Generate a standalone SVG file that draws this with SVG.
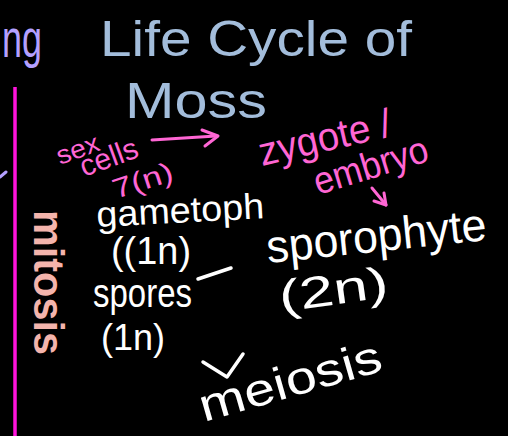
<svg xmlns="http://www.w3.org/2000/svg" width="508" height="436" viewBox="0 0 508 436">
  <style>
    text { font-family: "Liberation Sans", "DejaVu Sans", sans-serif; }
    .title { fill: #a3bddb; font-size: 50px; }
    .pink { fill: #ff66d4; }
    .white { fill: #ffffff; }
    .salmon { fill: #f4b4ac; font-weight: bold; }
    .purple { fill: #b4a0ff; }
    .plink { stroke: #ff66d4; stroke-width: 3; fill: none; stroke-linecap: round; stroke-linejoin: round; }
    .wlink { stroke: #ffffff; stroke-width: 3.5; fill: none; stroke-linecap: round; stroke-linejoin: round; }
  </style>
  <rect width="508" height="436" fill="#000000"/>

  <!-- left margin fragments -->
  <g id="margin">
    <text class="purple" x="2" y="57" font-size="54" textLength="40" lengthAdjust="spacingAndGlyphs">ng</text>
    <line x1="15" y1="87" x2="15" y2="436" stroke="#ff14dc" stroke-width="3.5"/>
    <line x1="0" y1="177" x2="6" y2="172" stroke="#b4a0ff" stroke-width="3" stroke-linecap="round"/>
  </g>

  <g id="title">
    <text class="title" x="100" y="56" textLength="312" lengthAdjust="spacingAndGlyphs">Life Cycle of</text>
    <text class="title" x="125" y="118" textLength="142" lengthAdjust="spacingAndGlyphs">Moss</text>
  </g>

  <g id="sex-cells">
    <text class="pink" font-size="26" transform="rotate(-20 60 165)" x="60" y="165" textLength="44" lengthAdjust="spacingAndGlyphs">sex</text>
    <text class="pink" font-size="30" transform="rotate(-20 84 177)" x="84" y="177" textLength="60" lengthAdjust="spacingAndGlyphs">cells</text>
    <text class="pink" font-size="28" transform="rotate(-18 116 199)" x="116" y="199" textLength="62" lengthAdjust="spacingAndGlyphs">7(n)</text>
  </g>

  <g id="zygote-embryo">
    <text class="pink" font-size="40" transform="rotate(-13 262 166)" x="262" y="166" textLength="135" lengthAdjust="spacingAndGlyphs">zygote /</text>
    <text class="pink" font-size="38" transform="rotate(-17 318 195)" x="318" y="195" textLength="118" lengthAdjust="spacingAndGlyphs">embryo</text>
  </g>

  <g id="mitosis">
    <text class="salmon" font-size="42" transform="rotate(90 34 210)" x="34" y="210" textLength="145" lengthAdjust="spacingAndGlyphs">mitosis</text>
  </g>

  <g id="gametophyte">
    <text class="white" font-size="36" transform="rotate(-3 97 227)" x="97" y="227" textLength="168" lengthAdjust="spacingAndGlyphs">gametoph</text>
    <text class="white" font-size="38" x="111" y="264" textLength="80" lengthAdjust="spacingAndGlyphs">((1n)</text>
  </g>

  <g id="spores">
    <text class="white" font-size="40" x="93" y="307" textLength="99" lengthAdjust="spacingAndGlyphs">spores</text>
    <text class="white" font-size="36" x="101" y="350" textLength="64" lengthAdjust="spacingAndGlyphs">(1n)</text>
  </g>

  <g id="sporophyte">
    <text class="white" font-size="46" transform="rotate(-6 268 263)" x="268" y="263" textLength="221" lengthAdjust="spacingAndGlyphs">sporophyte</text>
    <text class="white" font-size="44" transform="rotate(-8 281 312)" x="281" y="312" textLength="110" lengthAdjust="spacingAndGlyphs">(2n)</text>
  </g>

  <g id="meiosis">
    <text class="white" font-size="46" transform="rotate(-16 204 422)" x="204" y="422" textLength="188" lengthAdjust="spacingAndGlyphs">meiosis</text>
  </g>

  <g id="connectors">
    <path class="plink" d="M152 140 L216 136"/>
    <path class="plink" d="M202 130 L218 136 L205 146"/>
    <path class="plink" d="M372 188 L386 205"/>
    <path class="plink" d="M384 193 L386 205 L374 201"/>
    <path class="wlink" d="M198 279 L231 268"/>
    <path class="wlink" d="M203 362 L227 377 L243 354"/>
  </g>
</svg>
